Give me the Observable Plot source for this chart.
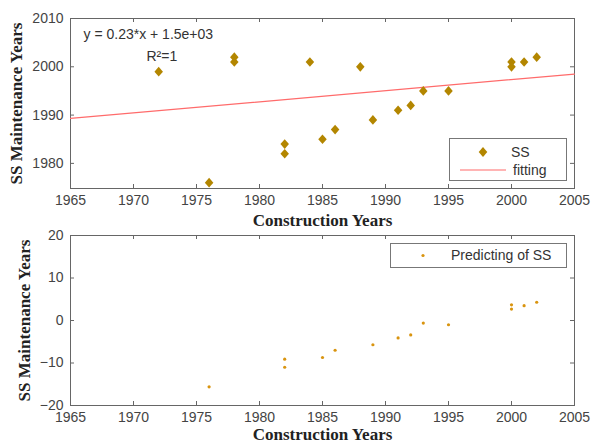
<!DOCTYPE html>
<html><head><meta charset="utf-8">
<script src="https://cdn.jsdelivr.net/npm/d3@7"></script>
<script src="https://cdn.jsdelivr.net/npm/@observablehq/plot@0.6"></script>
<style>
body{margin:0;background:#fff;}
#wrap{position:relative;width:592px;height:445px;overflow:hidden;background:#fff;font-family:"Liberation Sans",Arial,sans-serif;}
#wrap > svg{position:absolute;left:0;}
.legend{position:absolute;background:#fff;border:1px solid #777;box-sizing:border-box;}
.legend svg{position:absolute;left:0;top:0;}
.legend span{position:absolute;font-size:14px;color:#333;line-height:16px;white-space:nowrap;}
</style></head><body><div id="wrap"></div>
<script>
// ---- data ----
const ssYears   = [1972,1976,1978,1978,1982,1982,1984,1985,1986,1988,1989,1991,1992,1993,1995,2000,2000,2001,2002];
const ssMaint   = [1999,1976,2002,2001,1984,1982,2001,1985,1987,2000,1989,1991,1992,1995,1995,2001,2000,2001,2002];
const fitYears  = [1965,2005];
const fitMaint  = [1989.3,1998.5];
const predYears = [1976,1982,1982,1985,1986,1989,1991,1992,1993,1995,2000,2000,2001,2002];
const predVals  = [-15.6,-9.1,-11.0,-8.7,-7.0,-5.7,-4.1,-3.4,-0.6,-1.0,3.7,2.7,3.5,4.3];
const xTicks      = [1965,1970,1975,1980,1985,1990,1995,2000,2005];
const yTicksTop   = [1980,1990,2000,2010];
const yTicksBot   = [-20,-10,0,10,20];
const equationLabel = "y = 0.23*x + 1.5e+03";
const r2Label = "R\u00B2=1";
const xLabel = "Construction Years";
const yLabel = "SS Maintenance Years";
const legendTop = ["SS","fitting"];
const legendBot = ["Predicting of SS"];

// ---- styles ----
const W = 592, ML = 70, MR = 18;
const PW = W - ML - MR;
const diamondColor = "#b38600";
const dotColor = "#d9940f";
const fitColor = "#ff6b6b";
const axisColor = "#666";
const sans = "'Liberation Sans',Arial,sans-serif";
const serif = "'Liberation Serif','Times New Roman',serif";

const diamond = {draw(ctx, size){
  const h = Math.sqrt(size) * 0.62, w = h * 0.88;
  ctx.moveTo(0,-h); ctx.lineTo(w,0); ctx.lineTo(0,h); ctx.lineTo(-w,0); ctx.closePath();
}};

const ss = ssYears.map((x,i)=>({x, y: ssMaint[i]}));
const fit = fitYears.map((x,i)=>({x, y: fitMaint[i]}));
const pred = predYears.map((x,i)=>({x, y: predVals[i]}));

function frameTicks(ph, yt){
  return [
    Plot.tickX(xTicks, {x: d=>d, insetTop: ph-4, stroke: axisColor}),
    Plot.tickX(xTicks, {x: d=>d, insetBottom: ph-4, stroke: axisColor}),
    Plot.tickY(yt, {y: d=>d, insetRight: PW-4, stroke: axisColor}),
    Plot.tickY(yt, {y: d=>d, insetLeft: PW-4, stroke: axisColor}),
    Plot.frame({stroke: axisColor})
  ];
}
const style = {fontFamily: sans, fontSize: "14px", color: "#444", background: "transparent", overflow: "visible"};

// ---- top panel ----
const topH = 230, topMT = 18, topMB = 42;
const topPH = topH - topMT - topMB;
const topPlot = Plot.plot({
  width: W, height: topH, marginTop: topMT, marginBottom: topMB, marginLeft: ML, marginRight: MR,
  style,
  x: {domain: [1965, 2005]},
  y: {domain: [1974.8, 2010]},
  marks: [
    Plot.axisX({ticks: xTicks, tickSize: 0, tickPadding: 7, label: null, tickFormat: d=>String(d), fontSize: 14}),
    Plot.axisY({ticks: yTicksTop, tickSize: 0, tickPadding: 7, label: null, tickFormat: d=>String(d), fontSize: 14}),
    ...frameTicks(topPH, yTicksTop),
    Plot.line(fit, {x: "x", y: "y", stroke: fitColor, strokeWidth: 1.2}),
    Plot.dot(ss, {x: "x", y: "y", symbol: diamond, r: 4.4, fill: diamondColor, stroke: "none"}),
    Plot.text([equationLabel], {frameAnchor: "top-left", dx: 13, dy: 16, textAnchor: "start", lineAnchor: "middle", fill: "#333", fontSize: 14}),
    Plot.text([r2Label], {frameAnchor: "top-left", dx: 76, dy: 38, textAnchor: "start", lineAnchor: "middle", fill: "#333", fontSize: 14}),
    Plot.text([xLabel], {frameAnchor: "bottom", dy: 32, lineAnchor: "middle", fontFamily: serif, fontWeight: "bold", fontSize: 17, fill: "#222"}),
    Plot.text([yLabel], {frameAnchor: "left", dx: -54, rotate: -90, textAnchor: "middle", lineAnchor: "middle", fontFamily: serif, fontWeight: "bold", fontSize: 17, fill: "#222"})
  ]
});
topPlot.style.top = "0px";

// ---- bottom panel ----
const botTop = 222, botH = 223, botMT = 13, botMB = 40;
const botPH = botH - botMT - botMB;
const botPlot = Plot.plot({
  width: W, height: botH, marginTop: botMT, marginBottom: botMB, marginLeft: ML, marginRight: MR,
  style,
  x: {domain: [1965, 2005]},
  y: {domain: [-20, 20]},
  marks: [
    Plot.axisX({ticks: xTicks, tickSize: 0, tickPadding: 7, label: null, tickFormat: d=>String(d), fontSize: 14}),
    Plot.axisY({ticks: yTicksBot, tickSize: 0, tickPadding: 7, label: null, tickFormat: d=>String(d).replace("-", "\u2212"), fontSize: 14}),
    ...frameTicks(botPH, yTicksBot),
    Plot.dot(pred, {x: "x", y: "y", r: 1.6, fill: dotColor, stroke: "none"}),
    Plot.text([xLabel], {frameAnchor: "bottom", dy: 29.5, lineAnchor: "middle", fontFamily: serif, fontWeight: "bold", fontSize: 17, fill: "#222"}),
    Plot.text([yLabel], {frameAnchor: "left", dx: -46, rotate: -90, textAnchor: "middle", lineAnchor: "middle", fontFamily: serif, fontWeight: "bold", fontSize: 17, fill: "#222"})
  ]
});
botPlot.style.top = botTop + "px";

const wrap = document.getElementById("wrap");
wrap.appendChild(topPlot);
wrap.appendChild(botPlot);

// ---- legends ----
const lt = document.createElement("div");
lt.className = "legend";
Object.assign(lt.style, {left: "449px", top: "138px", width: "118px", height: "43px"});
lt.innerHTML = `<svg width="118" height="43">
  <path d="M33,8 L37.3,13 L33,18 L28.7,13 Z" fill="${diamondColor}"/>
  <line x1="10" x2="56" y1="31" y2="31" stroke="${fitColor}" stroke-width="1.2"/>
</svg>
<span style="left:61px;top:5px">${legendTop[0]}</span>
<span style="left:63px;top:23px">${legendTop[1]}</span>`;
wrap.appendChild(lt);

const lb = document.createElement("div");
lb.className = "legend";
Object.assign(lb.style, {left: "390px", top: "243px", width: "177px", height: "25px"});
lb.innerHTML = `<svg width="177" height="25"><circle cx="32" cy="11.5" r="1.6" fill="${dotColor}"/></svg>
<span style="left:60px;top:3px">${legendBot[0]}</span>`;
wrap.appendChild(lb);
</script></body></html>
